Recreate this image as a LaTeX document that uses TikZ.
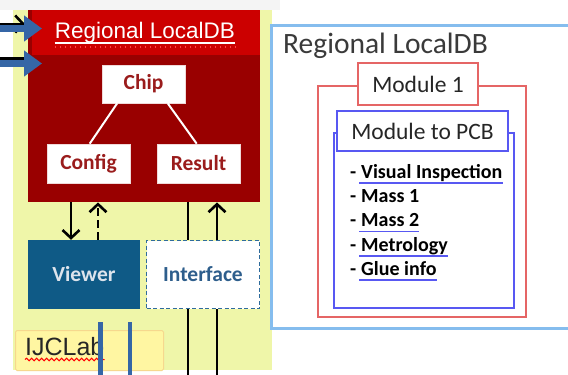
\documentclass[tikz,border=0pt]{standalone}
\usepackage{fontspec}
\setmainfont{Carlito}
\newfontfamily\arialfont{Liberation Sans}
\usetikzlibrary{arrows.meta,calc,decorations.pathmorphing}

\definecolor{strip}{HTML}{F4F4F4}
\definecolor{labbg}{HTML}{EFF6A9}
\definecolor{dbred}{HTML}{990000}
\definecolor{hdred}{HTML}{CC0000}
\definecolor{chiptxt}{HTML}{9A1C1C}
\definecolor{viewerblue}{HTML}{0F5A86}
\definecolor{viewertxt}{HTML}{DDE4EC}
\definecolor{ifblue}{HTML}{2F6C9C}
\definecolor{iftxt}{HTML}{2E5E8C}
\definecolor{ijfill}{HTML}{FFF6A2}
\definecolor{ijdraw}{HTML}{F6D88E}
\definecolor{arrowblue}{HTML}{3566A6}
\definecolor{panelblue}{HTML}{85BDEE}
\definecolor{titlegrey}{HTML}{3A3A3A}
\definecolor{modred}{HTML}{E56565}
\definecolor{modblue}{HTML}{5858F2}

\tikzset{
  whitebox/.style={fill=white, draw=white!85!dbred, line width=0.6pt, inner sep=0pt,
    text=chiptxt, font=\fontsize{21.5}{24}\selectfont\bfseries},
  treeline/.style={white, line width=2pt},
  blk/.style={black, line width=2.6pt},
  blkhead/.style={-{Straight Barb[length=8pt,width=17pt]}},
  bluearrow/.style={arrowblue, line width=7pt, -{Triangle[length=18pt 0,width=25pt 0]}},
  blueline/.style={arrowblue, line width=4.5pt},
  modbox/.style={fill=white, line width=2pt, inner sep=0pt, text=black!85,
    font=\fontsize{23.5}{26}\selectfont},
  item/.style={inner sep=0pt, anchor=base west, font=\fontsize{20}{24}\selectfont\bfseries},
  uline/.style={modblue, line width=1.6pt},
}

\begin{document}
\begin{tikzpicture}[x=1pt, y=-1pt]
  \useasboundingbox (0,0) rectangle (568,375);
  \fill[white] (0,0) rectangle (568,375);
  \fill[strip] (0,0) rectangle (280,10);

  % lab area background
  \node (lab) [fill=labbg, inner sep=0pt, minimum width=259pt, minimum height=360pt,
    anchor=north west] at (13,10) {};

  % regional database block
  \node (body) [fill=dbred, inner sep=0pt, minimum width=232pt, minimum height=192pt,
    anchor=north west] at (28,10) {};
  \node (header) [fill=hdred, inner sep=0pt, minimum width=228pt, minimum height=45pt,
    anchor=north west] at (32,10) {};
  \node (hdtext) [inner sep=0pt, anchor=base, text=white,
    font=\arialfont\fontsize{22.5}{25}\selectfont] at (145,38) {Regional LocalDB};
  \draw[white, line width=1.3pt] ([yshift=-5pt]hdtext.base west) -- ([yshift=-5pt]hdtext.base east);
  \draw[red!75!white, line width=1.6pt, dash pattern=on 1.6pt off 3.4pt]
    ([yshift=-9pt]hdtext.base west) -- ([yshift=-9pt]hdtext.base east);

  \node (chip) [whitebox, minimum width=83pt, minimum height=38pt] at (143.5,84) {Chip};
  \node (config) [whitebox, minimum width=83pt, minimum height=39pt] at (88.5,163.5) {Config};
  \node (result) [whitebox, minimum width=83pt, minimum height=39pt] at (198.5,163.5) {Result};
  \draw[treeline] ($(chip.south west)+(15.5,0)$) -- ($(config.north west)+(43,0)$);
  \draw[treeline] ($(chip.south west)+(66,0)$) -- ($(result.north west)+(40,0)$);

  % incoming arrows on the left
  \coordinate (k1) at (0,24);
  \coordinate (k2) at (0,58.5);
  \coordinate (b1) at (0,28.5);
  \coordinate (b2) at (0,63.5);
  \draw[blk, blkhead] (k1) -- (k1 -| 25,0);
  \draw[blk] (k2) -- (k2 -| 30,0);
  \draw[bluearrow] (b1) -- (b1 -| 42,0);
  \draw[bluearrow] (b2) -- (b2 -| 42,0);

  % viewer and interface
  \node (viewer) [fill=viewerblue, inner sep=0pt, minimum width=112pt, minimum height=69pt,
    text=viewertxt, font=\fontsize{21.5}{24}\selectfont\bfseries] at (84,274.5) {Viewer};
  \node (iface) [fill=white, draw=ifblue, line width=1.5pt, dash pattern=on 4pt off 2.5pt,
    inner sep=0pt, minimum width=113pt, minimum height=68pt,
    text=iftxt, font=\fontsize{21.5}{24}\selectfont\bfseries] at (203,274.5) {Interface};

  \draw[blk, blkhead] (body.south -| 71,0) -- (viewer.north -| 71,0);
  \draw[blk, blkhead, dash pattern=on 8pt off 4pt] (viewer.north -| 98,0) -- (body.south -| 98,0);
  \draw[blk] (body.south -| 188,0) -- (iface.north -| 188,0);
  \draw[blk, blkhead] (iface.north -| 217,0) -- (body.south -| 217,0);
  \coordinate (d1) at (188,375);
  \coordinate (d2) at (217,375);
  \draw[blk] (iface.south -| d1) -- (d1);
  \draw[blk] (iface.south -| d2) -- (d2);

  % lab label
  \node (ij) [fill=ijfill, draw=ijdraw, line width=1pt, rounded corners=1.5pt, inner sep=0pt,
    minimum width=148pt, minimum height=40pt, anchor=north west] at (15,330) {};
  \node (ijtext) [inner sep=0pt, anchor=base west, text=black!85,
    font=\arialfont\fontsize{25}{28}\selectfont] at (25,355) {IJCLab};
  \draw[red, line width=1pt, decorate,
    decoration={snake, amplitude=1.3pt, segment length=5pt}]
    ([yshift=-4.5pt]ijtext.base west) -- ([yshift=-4.5pt]ijtext.base east);
  \coordinate (v1) at (100.5,375);
  \coordinate (v2) at (130,375);
  \draw[blueline] (v1 |- 0,322) -- (v1);
  \draw[blueline] (v2 |- 0,322) -- (v2);

  % right panel: contents of the regional database
  \node (panel) [fill=white, draw=panelblue, line width=3pt, inner sep=0pt,
    minimum width=310pt, minimum height=303pt, anchor=north west] at (269.5,23.5) {};
  \node (ptitle) [inner sep=0pt, anchor=base west, text=titlegrey,
    font=\fontsize{29.5}{33}\selectfont] at (283,53) {Regional LocalDB};

  \node (outer) [draw=modred, line width=2pt, inner sep=0pt, minimum width=208pt,
    minimum height=231pt, anchor=north west] at (317,85) {};
  \node (mod1) [modbox, draw=modred, minimum width=120pt, minimum height=42pt] at (418,84) {Module 1};

  \node (inner) [draw=modblue, line width=2pt, inner sep=0pt, minimum width=180pt,
    minimum height=175pt, anchor=north west] at (333,132) {};
  \node (m2p) [modbox, draw=modblue, minimum width=171pt, minimum height=40pt] at (422.5,131) {Module to PCB};

  \node (d1i) [item] at (350,178) {-\ \null};
  \node (w1) [item] at (d1i.base east) {Visual Inspection};
  \node (d2i) [item] at (350,202.5) {-\ \null};
  \node (w2) [item] at (d2i.base east) {Mass 1};
  \node (d3i) [item] at (350,226.5) {-\ \null};
  \node (w3) [item] at (d3i.base east) {Mass 2};
  \node (d4i) [item] at (350,251) {-\ \null};
  \node (w4) [item] at (d4i.base east) {Metrology};
  \node (d5i) [item] at (350,275) {-\ \null};
  \node (w5) [item] at (d5i.base east) {Glue info};
  \foreach \w in {w1,w3,w4,w5}
    \draw[uline] ([xshift=-2pt,yshift=-5pt]\w.base west) -- ([yshift=-5pt]\w.base east);
\end{tikzpicture}
\end{document}
